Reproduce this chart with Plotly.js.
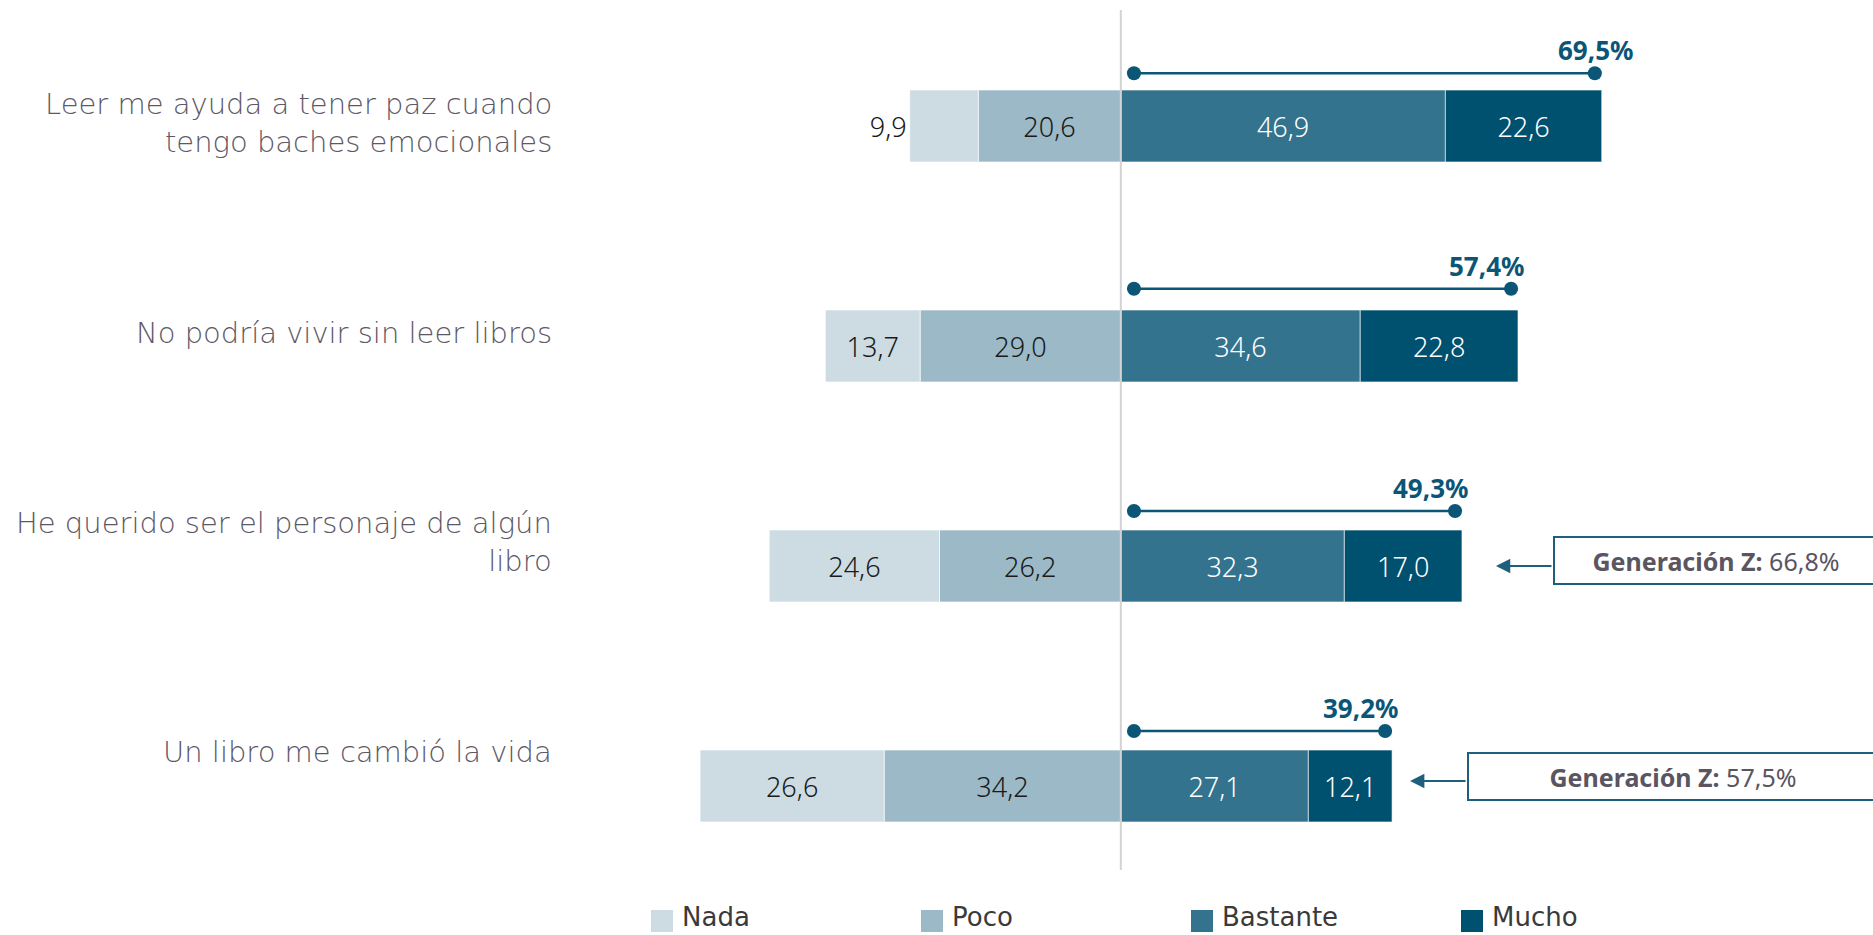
<!DOCTYPE html>
<html>
<head>
<meta charset="utf-8">
<script src="https://cdn.plot.ly/plotly-3.0.1.min.js"></script>
<style>
  html, body { margin: 0; padding: 0; background: #fff; }
  #chart { width: 1873px; height: 935px; }
</style>
</head>
<body>
<div id="chart"></div>
<script>
// data
const statements = [
  "Leer me ayuda a tener paz cuando<br>tengo baches emocionales",
  "No podría vivir sin leer libros",
  "He querido ser el personaje de algún<br>libro",
  "Un libro me cambió la vida"
];
const levels = ["Nada", "Poco", "Bastante", "Mucho"];
const nada = [9.9, 13.7, 24.6, 26.6];
const poco = [20.6, 29.0, 26.2, 34.2];
const bastante = [46.9, 34.6, 32.3, 27.1];
const mucho = [22.6, 22.8, 17.0, 12.1];
const totals = [69.5, 57.4, 49.3, 39.2];
const genZ = [null, null, 66.8, 57.5];

const colors = { Nada: "#cddce3", Poco: "#9bb9c6", Bastante: "#33738d", Mucho: "#00506f" };
const navy = "#0b5576";
const greyText = "#5d5866";
const valueFont = "'Noto Sans', sans-serif";
const labelFont = "'DejaVu Sans', sans-serif";

// plot area in pixels (used to place the hand-made legend)
const W = 1873, H = 935;
const M = { l: 570, r: 0, t: 16, b: 39 };
const plotW = W - M.l - M.r, plotH = H - M.t - M.b;
const px = x => (x - M.l) / plotW;
const py = y => (H - M.b - y) / plotH;

const fmt = v => v.toFixed(1).replace(".", ",");
const rows = statements.map((_, i) => i);

function barTrace(name, vals, sign, textColor, positions) {
  return {
    type: "bar",
    orientation: "h",
    name: name,
    y: rows,
    x: vals.map(v => sign * v),
    text: vals.map(fmt),
    textposition: positions || "inside",
    insidetextanchor: "middle",
    constraintext: "none",
    textangle: 0,
    insidetextfont: { family: valueFont, size: 27, color: textColor, weight: 300 },
    outsidetextfont: { family: valueFont, size: 27, color: "#1a1a1a", weight: 300 },
    marker: { color: colors[name], line: { color: "rgba(255,255,255,0.6)", width: 1 } },
    hoverinfo: "skip"
  };
}

// negatives stack outward from zero: Poco first, then Nada
const traces = [
  barTrace("Poco", poco, -1, "#1a1a1a"),
  barTrace("Nada", nada, -1, "#1a1a1a", nada.map(v => v < 12 ? "outside" : "inside")),
  barTrace("Bastante", bastante, 1, "#ffffff"),
  barTrace("Mucho", mucho, 1, "#ffffff")
];

// bracket line with dots over the positive side
const lineLift = [0.24, 0.26, 0.25, 0.25];
rows.forEach(i => {
  traces.push({
    type: "scatter",
    mode: "lines+markers",
    x: [1.9, totals[i] - 1],
    y: [i - lineLift[i], i - lineLift[i]],
    line: { color: navy, width: 2.5 },
    marker: { color: navy, size: 14 },
    hoverinfo: "skip",
    showlegend: false
  });
});

const annotations = [];
const totalShift = [33, 8, 8, 8];

rows.forEach(i => {
  annotations.push({
    xref: "paper", yref: "y", x: 0, y: i,
    xshift: -16, yshift: 3 + 10.3 * i,
    xanchor: "right", yanchor: "middle", align: "right",
    text: statements[i], showarrow: false,
    font: { family: labelFont, size: 29, color: greyText, weight: 300 }
  });
  annotations.push({
    xref: "x", yref: "y", x: totals[i], y: i - lineLift[i],
    xshift: totalShift[i], yshift: 23,
    xanchor: "right", yanchor: "middle",
    text: "<b>" + fmt(totals[i]) + "%</b>", showarrow: false,
    font: { family: "'Noto Sans', sans-serif", size: 26, color: navy }
  });
});

// Generación Z callouts
const boxGap = { 2: 91, 3: 75 };
const boxWidth = { 2: 310, 3: 396 };
const boxLift = { 2: 6, 3: 10 };
const arrowLift = { 2: 0, 3: 5 };
rows.forEach(i => {
  if (genZ[i] === null) return;
  annotations.push({
    xref: "x", yref: "y", x: totals[i], y: i,
    xshift: boxGap[i], yshift: boxLift[i],
    xanchor: "left", yanchor: "middle",
    width: boxWidth[i], height: 33, align: "center",
    text: "<b>Generación Z:</b> " + fmt(genZ[i]) + "%",
    showarrow: false,
    bordercolor: "#1e5f7e", borderwidth: 2, borderpad: 6, bgcolor: "#ffffff",
    font: { family: "'Noto Sans', sans-serif", size: 25, color: "#5a5560" }
  });
  annotations.push({
    xref: "x", yref: "y", x: totals[i], y: i,
    xshift: boxGap[i] - 57, yshift: arrowLift[i],
    text: "", showarrow: true,
    ax: 57, ay: 0, axref: "pixel", ayref: "pixel",
    arrowhead: 2, arrowsize: 1.3, arrowwidth: 2.2, arrowcolor: "#1e5f7e", standoff: 0
  });
});

// legend drawn by hand so the swatches match the reference size
const shapes = [{
  type: "line", xref: "x", yref: "paper", x0: 0, x1: 0,
  y0: py(870), y1: py(10),
  line: { color: "#d3d3d3", width: 2 }, layer: "above"
}];
levels.forEach((lv, k) => {
  const left = 651 + 270 * k;
  shapes.push({
    type: "rect", xref: "paper", yref: "paper",
    x0: px(left), x1: px(left + 22), y0: py(932), y1: py(910),
    fillcolor: colors[lv], line: { width: 0 }
  });
  annotations.push({
    xref: "paper", yref: "paper", x: px(left + 29), y: py(917),
    xanchor: "left", yanchor: "middle", showarrow: false, text: lv,
    font: { family: labelFont, size: 26, color: "#3a3a3a" }
  });
});

const layout = {
  width: W, height: H,
  margin: M,
  barmode: "relative",
  bargap: 0.673,
  showlegend: false,
  paper_bgcolor: "#ffffff",
  plot_bgcolor: "#ffffff",
  xaxis: { range: [-79.6, 108.7], visible: false, fixedrange: true },
  yaxis: { range: [3.5, -0.5], visible: false, fixedrange: true },
  shapes: shapes,
  annotations: annotations,
  font: { family: valueFont }
};

Plotly.newPlot("chart", traces, layout, { displayModeBar: false, staticPlot: true });
</script>
</body>
</html>
